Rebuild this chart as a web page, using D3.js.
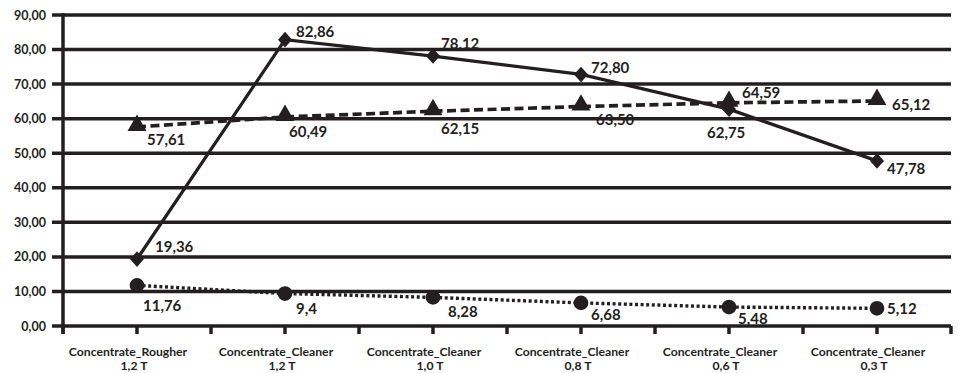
<!DOCTYPE html>
<html>
<head>
<meta charset="utf-8">
<script src="https://cdn.jsdelivr.net/npm/d3@7"></script>
<style>
  html, body { margin: 0; padding: 0; background: #fff; }
  svg { display: block; }
  text { font-family: Lato, "Open Sans", sans-serif; font-weight: 700; fill: #231f20; }
</style>
</head>
<body>
<svg id="chart" width="958" height="373"></svg>
<script>
// Categories (two-line labels)
const categories = [
  ["Concentrate_Rougher", "1,2 T"],
  ["Concentrate_Cleaner", "1,2 T"],
  ["Concentrate_Cleaner", "1,0 T"],
  ["Concentrate_Cleaner", "0,8 T"],
  ["Concentrate_Cleaner", "0,6 T"],
  ["Concentrate_Cleaner", "0,3 T"]
];

// Series values
const diamondSeries  = [19.36, 82.86, 78.12, 72.80, 62.75, 47.78];
const triangleSeries = [57.61, 60.49, 62.15, 63.50, 64.59, 65.12];
const circleSeries   = [11.76, 9.4, 8.28, 6.68, 5.48, 5.12];

// Value label text as shown
const diamondLabels  = ["19,36", "82,86", "78,12", "72,80", "62,75", "47,78"];
const triangleLabels = ["57,61", "60,49", "62,15", "63,50", "64,59", "65,12"];
const circleLabels   = ["11,76", "9,4", "8,28", "6,68", "5,48", "5,12"];

// Y-axis ticks
const yTicks = [0, 10, 20, 30, 40, 50, 60, 70, 80, 90];
const yTickLabels = ["0,00", "10,00", "20,00", "30,00", "40,00", "50,00", "60,00", "70,00", "80,00", "90,00"];

// Label offsets (dx of left edge, dy of text centre) from each marker
const diamondOffsets  = [[18, -13], [11, -9], [8, -13], [10, -7], [-22, 23], [10, 7]];
const triangleOffsets = [[10, 12], [4, 14], [8, 17], [15, 12], [13, -11], [15, 3]];
const circleOffsets   = [[6, 20], [11, 14], [15, 14], [10, 11], [9, 11], [10, 0]];

const ink = "#231f20";
const svg = d3.select("#chart");
const plotLeft = 63, plotRight = 951, plotTop = 15, plotBottom = 326;

const x = d3.scaleBand().domain(d3.range(categories.length)).range([plotLeft, plotRight]).padding(0);
const cx = i => x(i) + x.bandwidth() / 2;
const y = d3.scaleLinear().domain([0, 90]).range([plotBottom, plotTop]);

// Horizontal gridlines with tick stubs to the left
svg.append("g").selectAll("line").data(yTicks).join("line")
  .attr("x1", plotLeft - 11).attr("x2", plotRight)
  .attr("y1", d => y(d)).attr("y2", d => y(d))
  .attr("stroke", ink).attr("stroke-width", 3.5);

// Y labels
svg.append("g").selectAll("text").data(yTicks).join("text")
  .attr("x", plotLeft - 17).attr("y", d => y(d))
  .attr("text-anchor", "end").attr("dominant-baseline", "central")
  .attr("font-size", 12.5)
  .text((d, i) => yTickLabels[i]);

// Vertical axis
svg.append("line")
  .attr("x1", plotLeft).attr("x2", plotLeft).attr("y1", plotTop - 1.75).attr("y2", plotBottom + 8)
  .attr("stroke", ink).attr("stroke-width", 3.5);

// X-axis ticks at category boundaries and centres
const xTickPos = [];
categories.forEach((c, i) => { xTickPos.push(x(i)); xTickPos.push(cx(i)); });
xTickPos.push(plotRight);
svg.append("g").selectAll("line").data(xTickPos).join("line")
  .attr("x1", d => d).attr("x2", d => d)
  .attr("y1", plotBottom).attr("y2", plotBottom + 8)
  .attr("stroke", ink).attr("stroke-width", 3.5);

// Category labels
const xl = svg.append("g").selectAll("g").data(categories).join("g");
xl.append("text")
  .attr("x", (d, i) => cx(i) - 9).attr("y", 351.5)
  .attr("text-anchor", "middle").attr("dominant-baseline", "central")
  .attr("font-size", 12.2)
  .text(d => d[0]);
xl.append("text")
  .attr("x", (d, i) => cx(i) - 3).attr("y", 365)
  .attr("text-anchor", "middle").attr("dominant-baseline", "central")
  .attr("font-size", 12.2)
  .text(d => d[1]);

const line = d3.line().x((d, i) => cx(i)).y(d => y(d));

// Lines
svg.append("path").datum(circleSeries).attr("d", line)
  .attr("fill", "none").attr("stroke", ink).attr("stroke-width", 3.4)
  .attr("stroke-dasharray", "3,2.6");
svg.append("path").datum(triangleSeries).attr("d", line)
  .attr("fill", "none").attr("stroke", ink).attr("stroke-width", 3.7)
  .attr("stroke-dasharray", "9,4.5");
svg.append("path").datum(diamondSeries).attr("d", line)
  .attr("fill", "none").attr("stroke", ink).attr("stroke-width", 3.3);

// Markers
const sym = (type, size) => d3.symbol().type(type).size(size)();
svg.append("g").selectAll("path").data(circleSeries).join("path")
  .attr("d", sym(d3.symbolCircle, 170))
  .attr("transform", (d, i) => `translate(${cx(i)},${y(d)})`)
  .attr("fill", ink);
svg.append("g").selectAll("path").data(triangleSeries).join("path")
  .attr("d", sym(d3.symbolTriangle, 155))
  .attr("transform", (d, i) => `translate(${cx(i)},${y(d) - 1.5})`)
  .attr("fill", ink);
svg.append("g").selectAll("path").data(diamondSeries).join("path")
  .attr("d", "M0,-7.8L7,0L0,7.8L-7,0Z")
  .attr("transform", (d, i) => `translate(${cx(i)},${y(d)})`)
  .attr("fill", ink);

// Value labels
function labels(values, texts, offsets) {
  svg.append("g").selectAll("text").data(values).join("text")
    .attr("x", (d, i) => cx(i) + offsets[i][0])
    .attr("y", (d, i) => y(d) + offsets[i][1])
    .attr("dominant-baseline", "central")
    .attr("font-size", 15)
    .text((d, i) => texts[i]);
}
labels(diamondSeries, diamondLabels, diamondOffsets);
labels(triangleSeries, triangleLabels, triangleOffsets);
labels(circleSeries, circleLabels, circleOffsets);
</script>
</body>
</html>
